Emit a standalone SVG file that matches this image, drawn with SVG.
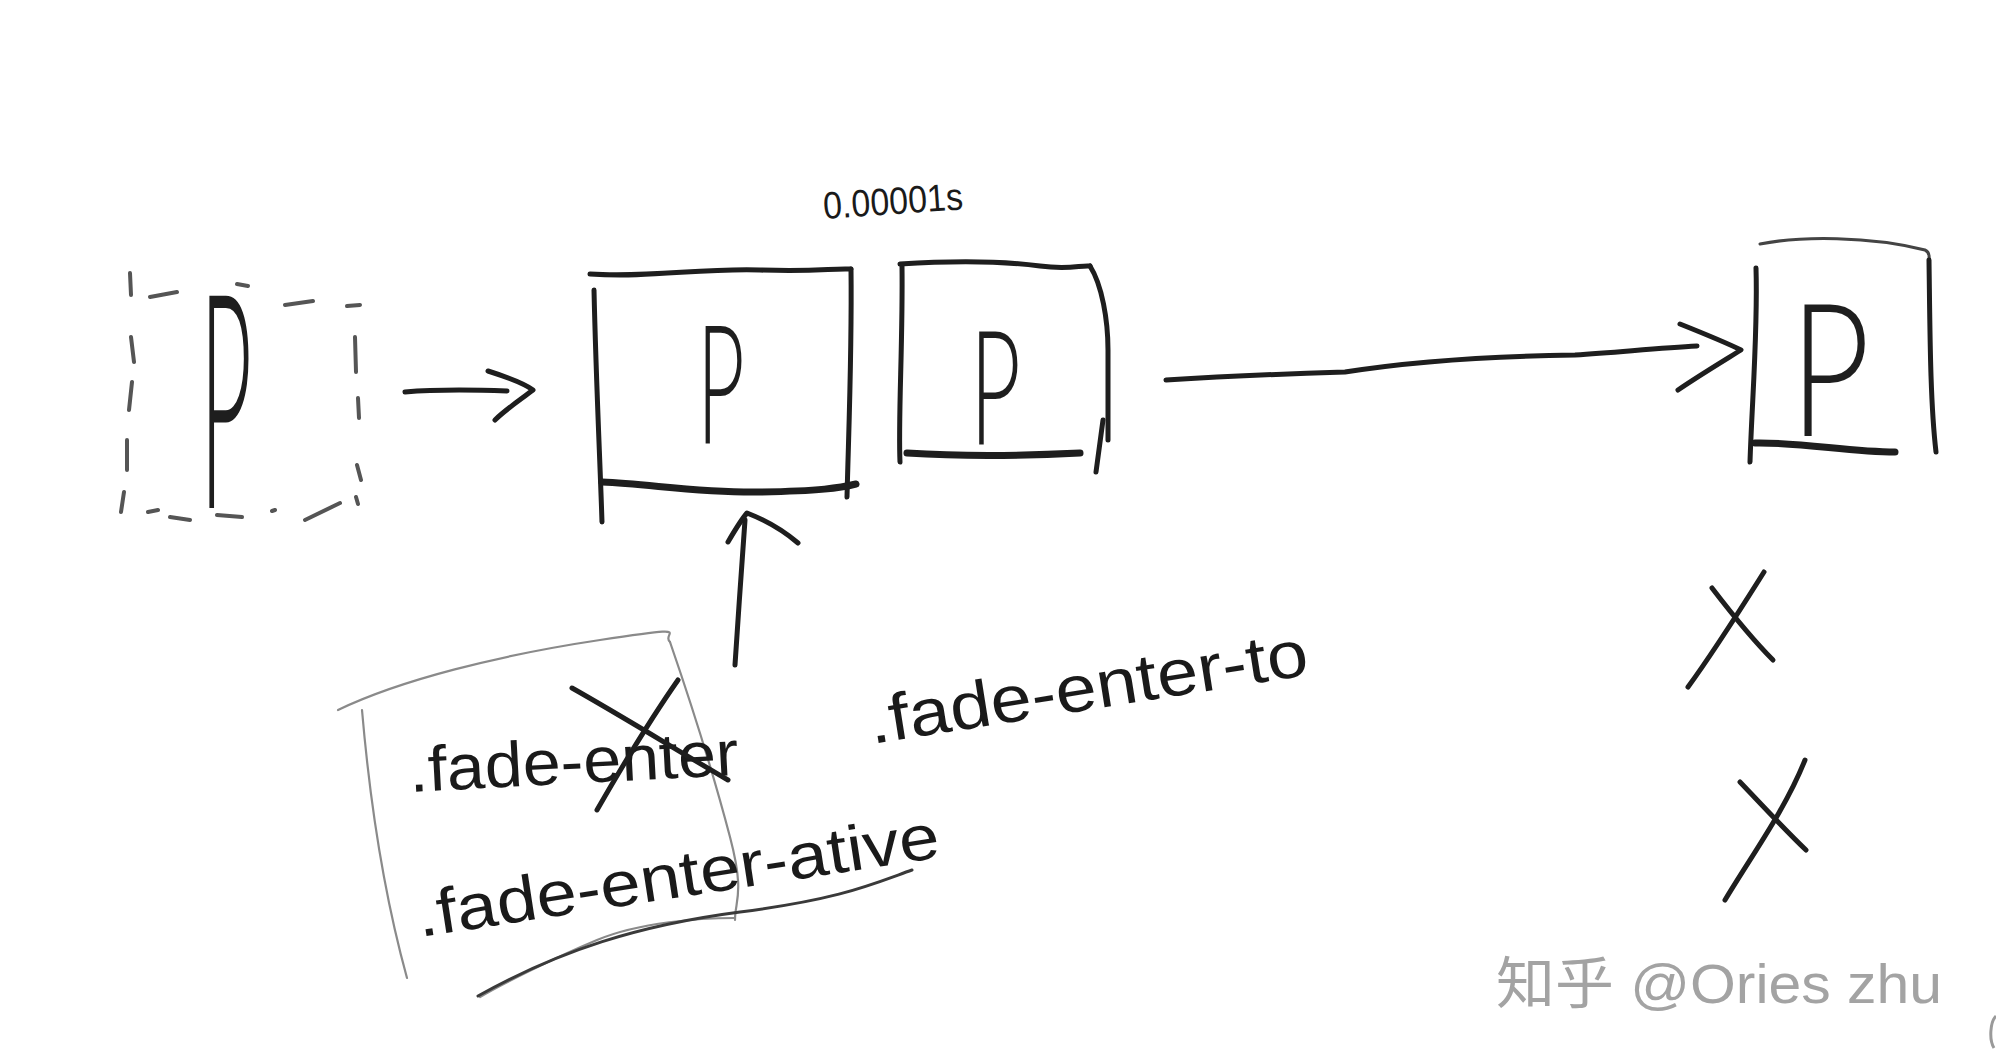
<svg xmlns="http://www.w3.org/2000/svg" width="1996" height="1064" viewBox="0 0 1996 1064">
<style>
.ink{fill:none;stroke:#1e1e1e;stroke-width:5;stroke-linecap:round;stroke-linejoin:round}
.thick{stroke-width:7}
.dash{fill:none;stroke:#555;stroke-width:4;stroke-linecap:round}
.pencil{fill:none;stroke:#8a8a8a;stroke-width:2.2;stroke-linecap:round}
.under{fill:none;stroke:#3a3a3a;stroke-width:3;stroke-linecap:round}
.thin{fill:none;stroke:#444;stroke-width:3;stroke-linecap:round}
.p{font-family:Lato,"Liberation Sans",sans-serif;font-weight:300;fill:#1e1e1e}
.hand{font-family:"Liberation Sans",Arial,sans-serif;fill:#1a1a1a;font-size:64px}
.wm{font-family:"Liberation Sans","Noto Sans CJK SC",sans-serif;fill:#a3a3a3;font-size:56px}
</style>
<rect width="1996" height="1064" fill="#ffffff"/>

<g id="node-dashed-p">
<path class="dash" d="M130 273 L131 295 M131 337 L134 362 M132 382 L129 410 M127 440 L127 470 M124 492 L121 512 M150 297 L177 292 M237 284 L248 286 M285 305 L313 301 M347 306 L360 305 M355 337 L356 372 M358 398 L359 418 M357 465 L361 480 M356 497 L358 504 M148 512 L158 510 M170 517 L190 520 M217 515 L242 517 M272 511 L275 510 M305 520 L340 503"/>
<text class="p" font-size="300" transform="translate(200,508) scale(0.3,1)">P</text>
</g>

<g id="node-box-enter">
<path class="ink" d="M590 274 C650 278 700 268 760 270 S830 268 851 269"/>
<path class="ink" d="M851 269 C852 350 849 420 847 497"/>
<path class="ink" d="M594 290 C596 380 600 460 602 522"/>
<path class="ink thick" d="M602 482 C650 484 700 493 760 492 S840 488 856 484"/>
<text class="p" font-size="165" transform="translate(697,443) scale(0.5,1)">P</text>
</g>

<g id="node-box-next">
<path class="ink" d="M900 264 C960 260 1010 262 1040 266 S1080 265 1090 266"/>
<path class="ink" d="M902 266 C903 340 898 420 900 462"/>
<path class="ink" d="M1090 266 C1102 285 1108 320 1108 350 L1108 440"/>
<path class="ink" d="M1103 420 L1096 472"/>
<path class="ink thick" d="M907 453 C970 457 1040 455 1080 453"/>
<text class="p" font-size="160" transform="translate(970,445) scale(0.55,1)">P</text>
<text class="hand" transform="translate(824,219) rotate(-4)" textLength="140" lengthAdjust="spacingAndGlyphs" style="font-size:38px">0.00001s</text>
</g>

<g id="node-box-final">
<path class="thin" d="M1760 244 C1800 236 1870 236 1925 250 Q1930 252 1929 260"/>
<path class="ink" d="M1929 260 C1930 330 1930 400 1936 452"/>
<path class="ink" d="M1756 268 C1758 330 1752 400 1750 462"/>
<path class="ink thick" d="M1755 443 C1800 442 1850 452 1895 452"/>
<text class="p" font-size="185" transform="translate(1790,436) scale(0.75,1)">P</text>
</g>

<g id="node-fade-enter">
<path class="pencil" d="M338 710 C400 680 500 655 600 640 S660 633 670 642"/>
<path class="pencil" d="M670 642 C690 700 715 780 730 837 S735 900 735 920"/>
<path class="pencil" d="M362 710 C368 780 380 880 407 978"/>
<path class="pencil" d="M735 918 C700 918 640 922 597 940 S500 985 480 997"/>
<text class="hand" transform="translate(410,792) rotate(-3)" textLength="330" lengthAdjust="spacingAndGlyphs">.fade-enter</text>
<path class="ink" d="M572 688 C620 715 680 752 728 780"/>
<path class="ink" d="M678 680 C650 720 620 770 597 810"/>
<text class="hand" transform="translate(420,937) rotate(-8.7)" textLength="528" lengthAdjust="spacingAndGlyphs">.fade-enter-ative</text>
<path class="under" d="M478 996 C560 950 640 925 740 912 S870 885 912 870"/>
</g>

<g id="node-fade-enter-to">
<text class="hand" transform="translate(872,744) rotate(-9)" textLength="444" lengthAdjust="spacingAndGlyphs" style="font-size:66px">.fade-enter-to</text>
</g>

<g id="node-crosses">
<path class="ink" d="M1688 687 C1715 650 1740 610 1764 572"/>
<path class="ink" d="M1712 588 C1735 618 1755 642 1773 660"/>
<path class="ink" d="M1725 900 C1752 855 1785 810 1805 760"/>
<path class="ink" d="M1740 782 C1762 805 1785 830 1806 850"/>
</g>

<g id="connectors">
<path class="ink" d="M405 392 C440 389 480 390 507 391"/>
<path class="ink" d="M488 371 C510 378 525 384 533 390 C520 400 505 410 495 420"/>
<path class="ink" d="M1166 380 C1230 376 1280 374 1345 372 C1420 360 1500 356 1575 355 C1620 352 1660 348 1697 346"/>
<path class="ink" d="M1680 324 C1700 332 1725 342 1741 350 C1725 360 1700 375 1678 390"/>
<path class="ink" d="M735 665 C738 620 742 560 745 520"/>
<path class="ink" d="M728 542 C735 530 741 520 747 513 C765 520 785 532 798 543"/>
</g>

<g id="watermark">
<text class="wm" x="1496" y="1003" textLength="446" lengthAdjust="spacingAndGlyphs">知乎 @Ories zhu</text>
<path fill="none" stroke="#9a9a9a" stroke-width="3" d="M1996 1016 C1990 1022 1989 1040 1994 1048"/>
</g>
</svg>
